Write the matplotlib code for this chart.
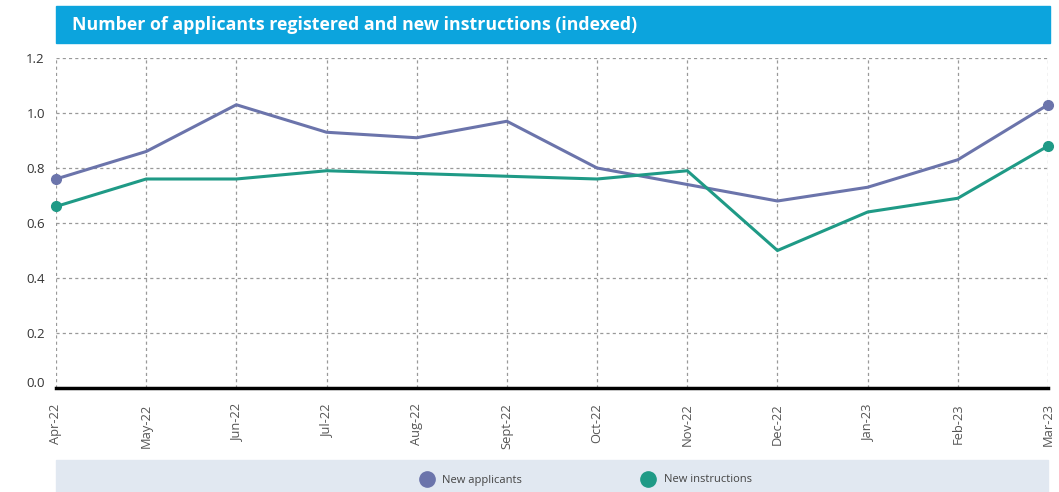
import matplotlib
matplotlib.use("Agg")
import matplotlib.pyplot as plt
import matplotlib.transforms as mtransforms
from matplotlib.patches import Rectangle
from matplotlib.lines import Line2D

months = ["Apr-22", "May-22", "Jun-22", "Jul-22", "Aug-22", "Sept-22", "Oct-22",
          "Nov-22", "Dec-22", "Jan-23", "Feb-23", "Mar-23"]
applicants = [0.76, 0.86, 1.03, 0.93, 0.91, 0.97, 0.80, 0.74, 0.68, 0.73, 0.83, 1.03]
instructions = [0.66, 0.76, 0.76, 0.79, 0.78, 0.77, 0.76, 0.79, 0.50, 0.64, 0.69, 0.88]
yticks = [0.0, 0.2, 0.4, 0.6, 0.8, 1.0, 1.2]
title = "Number of applicants registered and new instructions (indexed)"
series_names = ["New applicants", "New instructions"]

c_app = "#6b74ab"
c_ins = "#1f9a86"

plt.rcParams['font.family'] = ['Open Sans', 'DejaVu Sans']

W, H = 1059, 492
fig = plt.figure(figsize=(W / 100, H / 100), dpi=100)
fig.patch.set_facecolor("white")

ax = fig.add_axes([56 / W, 1 - 388 / H, (1048 - 56) / W, (388 - 58) / H])
x = list(range(len(months)))
ax.plot(x, applicants, color=c_app, lw=2.2, solid_joinstyle="miter", zorder=3)
ax.plot(x, instructions, color=c_ins, lw=2.2, solid_joinstyle="miter", zorder=3)
for vals, c in ((applicants, c_app), (instructions, c_ins)):
    ax.plot([x[0], x[-1]], [vals[0], vals[-1]], "o", color=c, ms=7, zorder=4,
            clip_on=False)

ax.set_xlim(0, len(months) - 1)
ax.set_ylim(0, 1.2)
ax.set_yticks(yticks)
ax.set_yticklabels([f"{v:.1f}" for v in yticks], fontsize=9.5, color="#333333")
ax.set_xticks(x)
ax.set_xticklabels(months, rotation=90, fontsize=9.3, color="#555555")
ax.tick_params(axis="both", length=0, pad=8)
ax.tick_params(axis="x", pad=11)
ax.grid(True, color="#999999", linestyle=(0, (2.5, 2.5)), lw=0.9)
for s in ax.spines.values():
    s.set_visible(False)
ax.axhline(0, color="black", lw=2.5, zorder=5, clip_on=False)
ax.set_axisbelow(True)

# nudge the 0.0 label slightly upward, as in the reference
lbl0 = ax.yaxis.get_major_ticks()[0].label1
lbl0.set_transform(lbl0.get_transform() +
                   mtransforms.ScaledTranslation(0, 6 / 100, fig.dpi_scale_trans))

# Title banner
fig.patches.append(Rectangle((56 / W, 1 - 43 / H), (1050 - 56) / W, 37 / H,
                             transform=fig.transFigure, color="#0ca4dd", zorder=0))
fig.text(72 / W, 1 - 24.5 / H, title, color="white", fontsize=12.8,
         fontweight="bold", va="center", ha="left")

# Legend band
fig.patches.append(Rectangle((56 / W, 0), (1048 - 56) / W, 32 / H,
                             transform=fig.transFigure, color="#e1e8f1", zorder=0))
ly = 13 / H
for xm, xt, c, name in ((427, 442, c_app, series_names[0]), (648, 664, c_ins, series_names[1])):
    fig.add_artist(Line2D([xm / W], [ly], marker="o", ms=11, color=c,
                          transform=fig.transFigure))
    fig.text(xt / W, ly - 1 / H, name, fontsize=8, color="#444444", va="center", ha="left")

fig.savefig("out.png", dpi=100)
